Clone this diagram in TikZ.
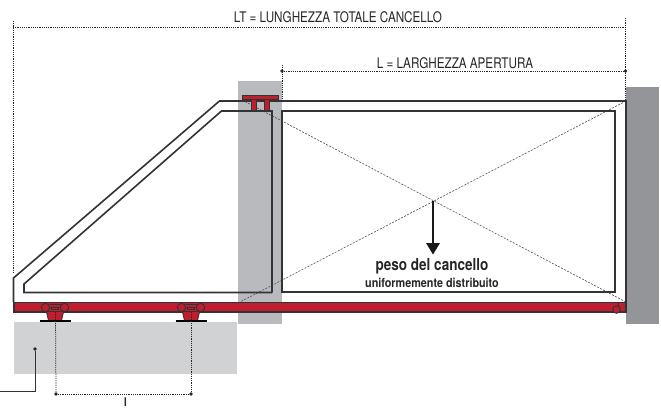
\documentclass[tikz,border=0pt]{standalone}
\usepackage{fontspec}
\setmainfont{TeX Gyre Heros}
\newfontfamily\cond[FakeStretch=0.80]{TeX Gyre Heros}
\newfontfamily\condb[FakeStretch=0.82]{TeX Gyre Heros}
\newfontfamily\condc[FakeStretch=0.865]{TeX Gyre Heros}
\definecolor{rosso}{HTML}{BE1E2D}
\definecolor{scuro}{HTML}{333335}
\definecolor{pil}{HTML}{B9BABD}
\definecolor{mur}{HTML}{939598}
\definecolor{fond}{HTML}{D1D2D4}
\tikzset{
  telaio/.style={draw=scuro,line width=1.6pt,line join=miter},
  quota/.style={draw=black!85,line width=0.75pt,dash pattern=on 1.2pt off 1pt},
  diag/.style={draw=black!70,line width=0.6pt,dash pattern=on 2pt off 1.4pt},
  pallino/.style={circle,fill=black!85,inner sep=0pt,minimum size=3.6pt},
  etichetta/.style={inner sep=0pt,text=black!85,font=\cond},
  rossoel/.style={fill=rosso,draw=scuro,line width=1pt},
}
\begin{document}
\begin{tikzpicture}[x=1pt,y=-1pt]
\useasboundingbox (0,0) rectangle (661,408);
% masses
\fill[pil] (238,81) rectangle (282,324);
\fill[mur] (626,87) rectangle (659,324);
\fill[fond] (14,322) rectangle (237,374);
% dimension corners
\coordinate (ltA) at (13,27);
\coordinate (ltB) at (625.5,27);
\coordinate (ltAd) at (13,273);
\coordinate (ltAu) at (13,21);
\coordinate (ltBu) at (625.5,18);
\coordinate (ltBd) at (625.5,101);
\coordinate (lB) at (625.5,71);
\coordinate (lAd) at (282,101);
\coordinate (lAu) at (282,65);
% diagonals
\coordinate (d1a) at (242,100);
\coordinate (d1b) at (626,302);
\coordinate (d2a) at (626,101);
\coordinate (d2b) at (240,302);
\draw[diag] (d1a) -- (d1b);
\draw[diag] (d2a) -- (d2b);
% gate frame
\draw[telaio] (626,302) -- (626,101) -- (219.5,101) -- (13.5,278) -- (13.5,302);
\draw[telaio] (272,292.5) -- (24,292.5) -- (24,284) -- (221.5,111) -- (272,111) -- (272,292.5);
\draw[telaio] (282,111) rectangle (615,292);
% rail
\draw[rossoel,line width=1.4pt] (14,302.5) rectangle (626,312);
% top guide
\draw[rossoel] (251.5,99) rectangle (256,110);
\draw[rossoel] (264.5,99) rectangle (269,110);
\draw[rossoel] (242,95) rectangle (278,99.5);
% trolleys
\foreach \cx in {55,191}{
  \begin{scope}[shift={(\cx,0)}]
    \fill[rosso] (-8.5,312) -- (-6.5,320.5) -- (6.5,320.5) -- (8.5,312) -- cycle;
    \draw[scuro,line width=0.9pt] (-8.5,312) -- (-6.5,320.5) (8.5,312) -- (6.5,320.5);
    \draw[draw=black,line width=1.6pt] (-15.5,321) -- (15.5,321);
    \draw[rossoel,line width=0.9pt] (-9.5,307.5) circle[radius=4.2];
    \draw[rossoel,line width=0.9pt] (9.5,307.5) circle[radius=4.2];
    \draw[scuro,line width=1pt] (-5.5,304.7) -- (5.5,304.7);
    \draw[rossoel,line width=0.7pt] (-3.2,307) rectangle (3.2,309.5);
  \end{scope}
}
% end stop wheel
\draw[rossoel,line width=0.9pt] (616.5,309.5) circle[radius=3.8];
\draw[scuro,line width=0.9pt] (618.5,302) -- (618.5,306);
% dimensions
\draw[quota] (ltA) -- (ltB);
\draw[quota] (ltAu) -- (ltAd);
\draw[quota] (ltBu) -- (ltBd);
\draw[quota] (lAu) -- (lAd);
\node[pallino] (lp1) at (282,71) {};
\node[pallino] (lp2) at (lB) {};
\draw[quota] (lp1) -- (lp2);
% trolley spacing
\node[pallino] (p1) at (56,394) {};
\node[pallino] (p2) at (191,394) {};
\coordinate (t1) at (55.5,312);
\coordinate (t2) at (191,312);
\draw[quota] (t1) -- (p1);
\draw[quota] (t2) -- (p2);
\draw[quota] (p1) -- (p2);
% leader
\node[pallino] (ld) at (35,349) {};
\coordinate (ldc) at (35,391);
\coordinate (lde) at (0,391);
\draw[scuro,line width=0.8pt] (ld) -- (ldc) -- (lde);
% weight arrow
\coordinate (wa) at (433,201);
\coordinate (wb) at (433,245);
\draw[black!90,line width=2.8pt] (wa) -- (wb);
\fill[black!90] (426,243) -- (440,243) -- (433,254.5) -- cycle;
% labels
\node[etichetta,anchor=base] (tlt) at (338,22.5) {\fontsize{14.6}{16}\selectfont LT = LUNGHEZZA TOTALE CANCELLO};
\node[etichetta,anchor=base] (tl) at (455,68) {\fontsize{14.6}{16}\selectfont L = LARGHEZZA APERTURA};
\node[etichetta,anchor=base,font=\condb] (tp) at (432,270) {\fontsize{16.5}{18}\selectfont\bfseries peso del cancello};
\node[etichetta,anchor=base,font=\condc] (tu) at (432,287) {\fontsize{12.5}{14}\selectfont\bfseries uniformemente distribuito};
\node[etichetta,anchor=base] (ti) at (125.5,406.5) {\fontsize{12}{13}\selectfont\bfseries I};
\end{tikzpicture}
\end{document}
